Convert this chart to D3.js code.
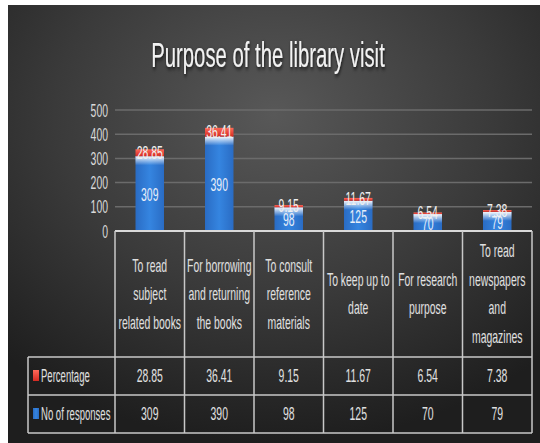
<!DOCTYPE html>
<html><head><meta charset="utf-8">
<script src="https://cdn.jsdelivr.net/npm/d3@7"></script>
<style>html,body{margin:0;padding:0;background:#fff;}svg{display:block;}</style>
</head><body>
<svg id="c" width="540" height="443"></svg>
<script>
const categories = [
  ["To read","subject","related books"],
  ["For borrowing","and returning","the books"],
  ["To consult","reference","materials"],
  ["To keep up to","date"],
  ["For research","purpose"],
  ["To read","newspapers","and","magazines"]
];
const responses = [309, 390, 98, 125, 70, 79];
const percentages = [28.85, 36.41, 9.15, 11.67, 6.54, 7.38];
const percentageLabels = ["28.85","36.41","9.15","11.67","6.54","7.38"];
const yTicks = [0, 100, 200, 300, 400, 500];
const seriesNames = ["Percentage", "No of responses"];
const title = "Purpose of the library visit";

(function(){
const FONT = "'Liberation Sans',Arial,sans-serif";
const SX = 0.58;
const svg = d3.select("#c");
const defs = svg.append("defs");

const bg = defs.append("radialGradient").attr("id","bg")
  .attr("cx","50%").attr("cy","25%").attr("r","75%");
bg.append("stop").attr("offset","0%").attr("stop-color","#585858");
bg.append("stop").attr("offset","55%").attr("stop-color","#3a3a3a");
bg.append("stop").attr("offset","100%").attr("stop-color","#1e1e1e");

const blueG = defs.append("linearGradient").attr("id","blueG").attr("x1",0).attr("x2",1).attr("y1",0).attr("y2",0);
blueG.append("stop").attr("offset","0%").attr("stop-color","#2a6cc4");
blueG.append("stop").attr("offset","50%").attr("stop-color","#3585e0");
blueG.append("stop").attr("offset","100%").attr("stop-color","#2a6cc4");

const glowG = defs.append("linearGradient").attr("id","glowG").attr("x1",0).attr("x2",0).attr("y1",0).attr("y2",1);
glowG.append("stop").attr("offset","0%").attr("stop-color","#ffffff").attr("stop-opacity",0.95);
glowG.append("stop").attr("offset","100%").attr("stop-color","#ffffff").attr("stop-opacity",0);

const redG = defs.append("linearGradient").attr("id","redG").attr("x1",0).attr("x2",0).attr("y1",0).attr("y2",1);
redG.append("stop").attr("offset","0%").attr("stop-color","#ff6a5a");
redG.append("stop").attr("offset","100%").attr("stop-color","#d42a22");

const sh = defs.append("filter").attr("id","sh").attr("x","-10%").attr("y","-30%").attr("width","120%").attr("height","160%");
sh.append("feDropShadow").attr("dx",1).attr("dy",2).attr("stdDeviation",2).attr("flood-color","#000").attr("flood-opacity",0.8);

svg.append("rect").attr("x",8).attr("y",5).attr("width",532).attr("height",438).attr("fill","url(#bg)");

function stext(g, px, py, str, size, anchor, fill, sx) {
  return g.append("text")
    .attr("transform", `translate(${px},${py}) scale(${sx||SX},1)`)
    .attr("text-anchor", anchor || "middle")
    .attr("dominant-baseline","central")
    .attr("font-family", FONT)
    .attr("font-size", size)
    .attr("fill", fill || "#e6e6e6")
    .text(str);
}

stext(svg, 268, 55, title, 35, "middle", "#f2f2f2").attr("filter","url(#sh)");

const x = d3.scaleBand().domain(d3.range(categories.length)).range([115, 532]).paddingInner(0).paddingOuter(0);
const y = d3.scaleLinear().domain([0, 500]).range([231, 110]);
const barW = x.bandwidth() * 0.41;

svg.append("g").selectAll("line").data(yTicks.filter(d => d > 0)).join("line")
  .attr("x1", 115).attr("x2", 532)
  .attr("y1", d => y(d)).attr("y2", d => y(d))
  .attr("stroke", "#6b6b6b").attr("stroke-width", 1.5);

const yAxis = d3.axisLeft(y).tickValues(yTicks).tickSize(0).tickPadding(0);
const ya = svg.append("g").attr("transform","translate(108,0)").call(yAxis);
ya.select(".domain").remove();
ya.selectAll(".tick text").remove();
ya.selectAll(".tick").each(function(d){
  stext(d3.select(this), 0, 0, String(d), 18, "end", "#d9d9d9");
});

const rows = responses.map((r, i) => ({i, resp: r, pct: percentages[i]}));
const stack = d3.stack().keys(["resp","pct"])(rows);

const bars = svg.append("g");
bars.selectAll("rect.b").data(stack[0]).join("rect").attr("class","b")
  .attr("x", d => x(d.data.i) + (x.bandwidth()-barW)/2)
  .attr("width", barW)
  .attr("y", d => y(d[1]))
  .attr("height", d => y(d[0]) - y(d[1]))
  .attr("fill","url(#blueG)");
bars.selectAll("rect.g").data(stack[0]).join("rect").attr("class","g")
  .attr("x", d => x(d.data.i) + (x.bandwidth()-barW)/2)
  .attr("width", barW)
  .attr("y", d => y(d[1]))
  .attr("height", d => Math.min(9, y(d[0]) - y(d[1])))
  .attr("fill","url(#glowG)");
bars.selectAll("rect.r").data(stack[1]).join("rect").attr("class","r")
  .attr("x", d => x(d.data.i) + (x.bandwidth()-barW)/2)
  .attr("width", barW)
  .attr("y", d => y(d[1]))
  .attr("height", d => y(d[0]) - y(d[1]))
  .attr("fill","url(#redG)");

stack[0].forEach(d => {
  stext(bars, x(d.data.i) + x.bandwidth()/2, (y(d[0]) + y(d[1]))/2 + 1, String(d.data.resp), 18, "middle", "#e8eef8");
});
stack[1].forEach((d, k) => {
  stext(bars, x(d.data.i) + x.bandwidth()/2, (y(d[0]) + y(d[1]))/2, percentageLabels[k], 18, "middle", "#f0f0f0");
});

const tbl = svg.append("g");
const tTop = 231, hdrB = 357, r1B = 395, r2B = 433, leftX = 28;
const lineC = "#c8c8c8";
tbl.append("line").attr("x1",115).attr("x2",532).attr("y1",tTop).attr("y2",tTop).attr("stroke","#d9d9d9").attr("stroke-width",2);
[hdrB, r1B, r2B].forEach(yy => {
  tbl.append("line").attr("x1",leftX).attr("x2",532).attr("y1",yy).attr("y2",yy).attr("stroke",lineC).attr("stroke-width",1.5);
});
const vx = d3.range(categories.length + 1).map(i => i < categories.length ? x(i) : x(categories.length-1) + x.bandwidth());
vx.forEach(xx => {
  tbl.append("line").attr("x1",xx).attr("x2",xx).attr("y1",tTop).attr("y2",r2B).attr("stroke",lineC).attr("stroke-width",1.5);
});
tbl.append("line").attr("x1",leftX).attr("x2",leftX).attr("y1",hdrB).attr("y2",r2B).attr("stroke",lineC).attr("stroke-width",1.5);

categories.forEach((lines, i) => {
  const cx = x(i) + x.bandwidth()/2;
  const lh = 28.5;
  const cy = (tTop + hdrB)/2;
  lines.forEach((ln, j) => {
    stext(tbl, cx, cy + (j - (lines.length-1)/2) * lh, ln, 18, "middle", "#e0e0e0");
  });
});

const rowDefs = [
  {name: seriesNames[0], vals: percentageLabels, y0: hdrB, y1: r1B, fill: "url(#redG)"},
  {name: seriesNames[1], vals: responses.map(String), y0: r1B, y1: r2B, fill: "url(#blueG)"}
];
rowDefs.forEach(r => {
  const cy = (r.y0 + r.y1)/2;
  tbl.append("rect").attr("x", 33).attr("y", cy - 6).attr("width", 6).attr("height", 11).attr("fill", r.fill);
  stext(tbl, 41, cy, r.name, 18, "start", "#e0e0e0", 0.53);
  r.vals.forEach((v, i) => {
    stext(tbl, x(i) + x.bandwidth()/2, cy, v, 18, "middle", "#e0e0e0");
  });
});
})();
</script>
</body></html>
